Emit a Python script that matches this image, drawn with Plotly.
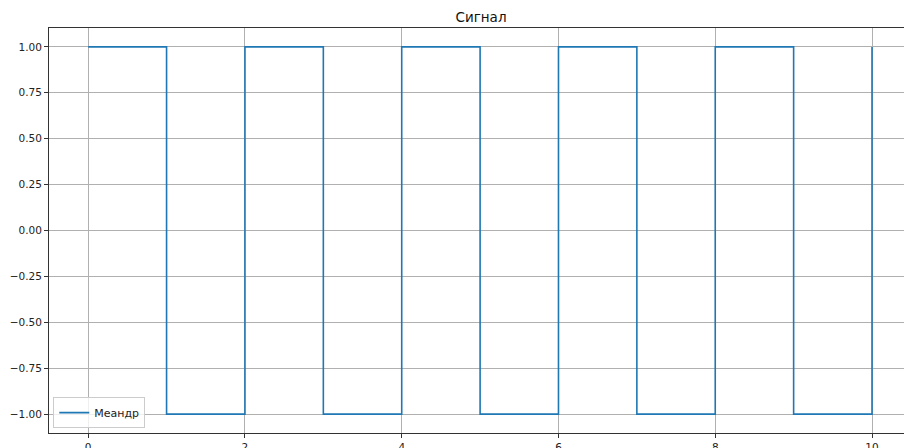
import plotly.graph_objects as go

t_points = [0, 1, 2, 3, 4, 5, 6, 7, 8, 9, 10]
y_points = [1, -1, 1, -1, 1, -1, 1, -1, 1, -1, 1]
x_ticks = [0, 2, 4, 6, 8, 10]
y_ticks = [1.0, 0.75, 0.5, 0.25, 0.0, -0.25, -0.5, -0.75, -1.0]
series_name = "Меандр"
title_text = "Сигнал"

fig = go.Figure()
fig.add_trace(go.Scatter(
    x=t_points, y=y_points, mode="lines", line_shape="hv",
    line=dict(color="#1f77b4", width=1.6), name=series_name, showlegend=True,
))

font = "DejaVu Sans, sans-serif"
fig.update_layout(
    width=904, height=448,
    margin=dict(l=49, r=0, t=28, b=15, autoexpand=False),
    paper_bgcolor="white", plot_bgcolor="white",
    font=dict(family=font, size=10.5, color="#222"),
    title=dict(text=title_text, xref="container", x=481 / 904, xanchor="center",
               yref="container", y=1 - 17 / 448, yanchor="middle",
               font=dict(size=13.5, color="#111")),
    showlegend=True,
    legend=dict(x=0.005, y=0.012, xanchor="left", yanchor="bottom",
                bgcolor="rgba(255,255,255,0.8)", bordercolor="#cccccc", borderwidth=1,
                font=dict(size=11), itemwidth=30, tracegroupgap=0),
)
fig.update_xaxes(
    range=[-0.5, (904 - 88) / 78.4], tickvals=x_ticks, ticktext=[str(v) for v in x_ticks],
    showgrid=True, gridcolor="#b0b0b0", gridwidth=0.8, zeroline=False,
    showline=True, linecolor="#333", linewidth=1, mirror=True,
    ticks="outside", ticklen=4, tickcolor="#333", automargin=False,
)
fig.update_yaxes(
    range=[-1.103, 1.103], tickvals=y_ticks, tickformat=".2f",
    showgrid=True, gridcolor="#b0b0b0", gridwidth=0.8, zeroline=False,
    showline=True, linecolor="#333", linewidth=1,
    ticks="outside", ticklen=4, tickcolor="#333", automargin=False,
)
fig.write_html(
    "out.html",
    config={"displayModeBar": False},
    post_script="document.body.style.margin='0';document.body.style.overflow='hidden';",
)
